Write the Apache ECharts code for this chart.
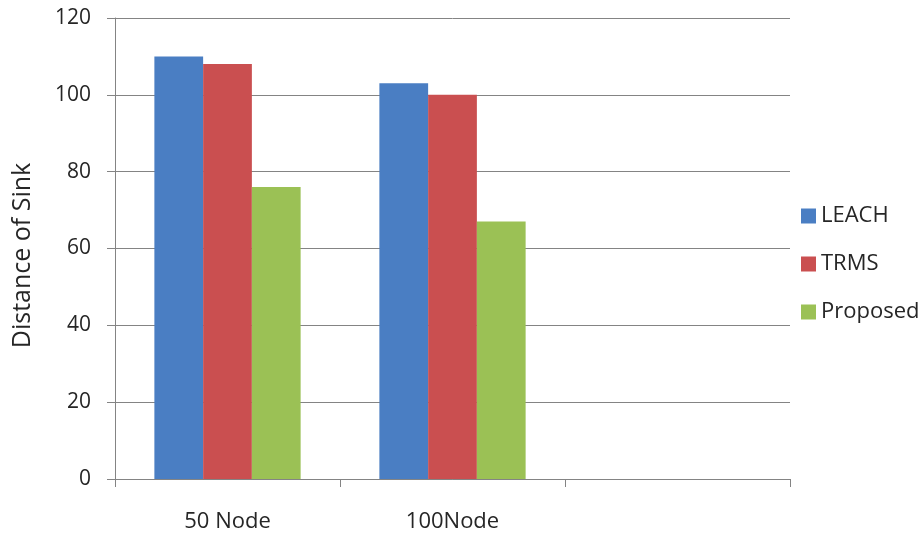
<!DOCTYPE html>
<html>
<head>
<meta charset="utf-8">
<script src="https://cdn.jsdelivr.net/npm/echarts@6/dist/echarts.min.js"></script>
<style>
  html, body { margin: 0; padding: 0; background: #ffffff; }
  #chart { width: 924px; height: 535px; }
</style>
</head>
<body>
<div id="chart"></div>
<script>
// Categories along the x axis (the third slot is left empty)
const categories = ['50 Node', '100Node', ''];

// Distance of sink for each protocol
const leach = [110, 103, null];
const trms = [108, 100, null];
const proposed = [76, 67, null];

// Value axis ticks
const yMin = 0;
const yMax = 120;
const yStep = 20;

const FONT = '"Open Sans", sans-serif';
const TEXT = '#262626';
const LINE = '#848484';

const chart = echarts.init(document.getElementById('chart'), null, { renderer: 'canvas' });

const barStyle = (color) => ({
  type: 'bar',
  barGap: '0%',
  barCategoryGap: '35%',
  itemStyle: { color: color },
  emphasis: { disabled: true }
});

chart.setOption({
  animation: false,
  backgroundColor: '#ffffff',
  textStyle: { fontFamily: FONT, color: TEXT },
  grid: { left: 115, right: 134, top: 18, bottom: 56, containLabel: false },
  legend: {
    orient: 'vertical',
    left: 796,
    top: 200,
    itemWidth: 15,
    itemHeight: 15,
    itemGap: 26,
    icon: 'rect',
    textStyle: { fontFamily: FONT, fontSize: 22, color: TEXT, lineHeight: 22 },
    data: ['LEACH', 'TRMS', 'Proposed']
  },
  xAxis: {
    type: 'category',
    data: categories,
    boundaryGap: true,
    axisLine: { show: true, lineStyle: { color: LINE, width: 1 } },
    axisTick: { show: true, length: 8, lineStyle: { color: LINE } },
    axisLabel: { fontFamily: FONT, fontSize: 22, color: TEXT, margin: 32 },
    splitLine: { show: false }
  },
  yAxis: {
    type: 'value',
    min: yMin,
    max: yMax,
    interval: yStep,
    name: 'Distance of Sink',
    nameLocation: 'middle',
    nameGap: 80,
    nameTextStyle: { fontFamily: FONT, fontSize: 25, color: TEXT, padding: [0, 14, 0, 0] },
    axisLine: { show: true, lineStyle: { color: LINE, width: 1 } },
    axisTick: { show: true, length: 8, lineStyle: { color: LINE } },
    axisLabel: { fontFamily: FONT, fontSize: 21, color: TEXT, margin: 24 },
    splitLine: { show: true, lineStyle: { color: LINE, width: 1 } }
  },
  series: [
    Object.assign(barStyle('#4a7ec3'), { name: 'LEACH', data: leach }),
    Object.assign(barStyle('#ca4f50'), { name: 'TRMS', data: trms }),
    Object.assign(barStyle('#9bc155'), { name: 'Proposed', data: proposed })
  ]
});
</script>
</body>
</html>
